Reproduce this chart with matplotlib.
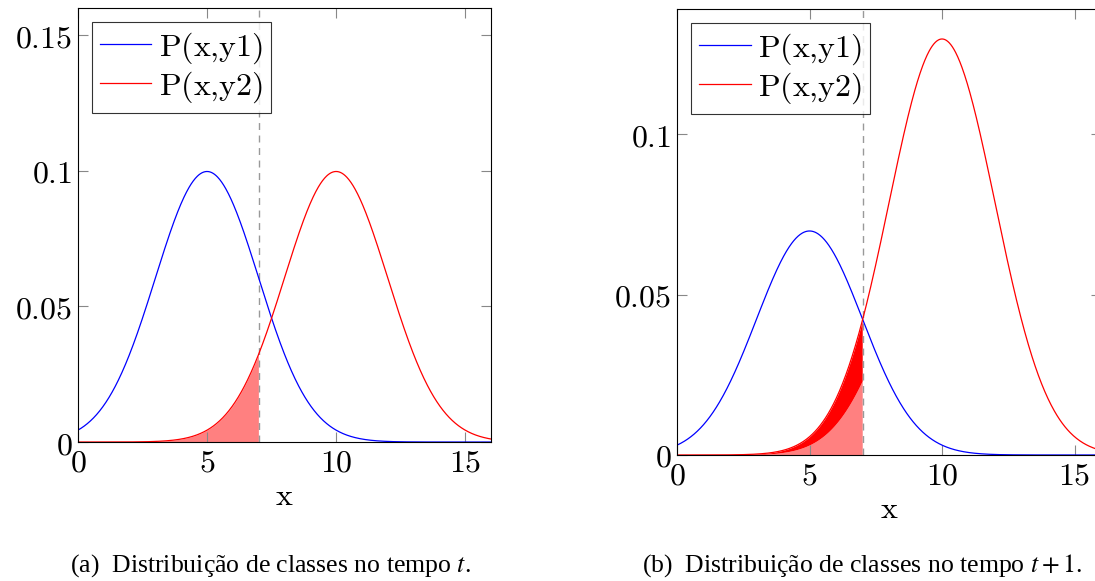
import matplotlib
matplotlib.use("Agg")
import matplotlib.pyplot as plt
import numpy as np

# class-conditional gaussians
means = [5.0, 10.0]
sigma = 2.0
priors_t = [0.5, 0.5]       # panel (a)
priors_t1 = [0.35, 0.65]    # panel (b)
light_share_b = 0.36        # lighter part of the shaded tail in panel (b)
threshold = 7.0
series_labels = ["P(x{,}y1)", "P(x{,}y2)"]
x_ticks = [0, 5, 10, 15]
y_ticks_a = [0, 0.05, 0.1, 0.15]
y_ticks_b = [0, 0.05, 0.1]
captions = ["(a)  Distribuição de classes no tempo $t$.",
            "(b)  Distribuição de classes no tempo $t+1$."]

plt.rcParams["mathtext.fontset"] = "cm"
plt.rcParams["font.family"] = "DejaVu Serif"

x = np.linspace(0, 16, 800)


def density(prior, mu):
    return prior * np.exp(-0.5 * ((x - mu) / sigma) ** 2) / (sigma * np.sqrt(2 * np.pi))


def tex(s):
    return r"$\mathrm{" + s + "}$"


def style_axes(ax, yticks, ymax):
    ax.set_xlim(0, 16)
    ax.set_ylim(0, ymax)
    ax.set_xticks(x_ticks)
    ax.set_xticklabels([tex(str(t)) for t in x_ticks])
    ax.set_yticks(yticks)
    ax.set_yticklabels([tex(f"{t:g}") for t in yticks])
    ax.tick_params(direction="in", length=7, width=0.8, color="#888888",
                   top=True, right=True, labelsize=23, pad=4)
    for sp in ax.spines.values():
        sp.set_linewidth(0.8)
    ax.set_xlabel(tex("x"), fontsize=23, labelpad=2)
    leg = ax.legend(loc="upper left", fontsize=23, frameon=True, fancybox=False,
                    edgecolor="black", handlelength=1.6, handletextpad=0.25,
                    borderpad=0.25, labelspacing=0.1, borderaxespad=0.45)
    leg.get_frame().set_linewidth(0.8)


fig = plt.figure(figsize=(10.95, 5.81), dpi=100)
ax_a = fig.add_axes([0.0712, 0.2392, 0.3772, 0.747])
ax_b = fig.add_axes([0.6183, 0.2169, 0.3872, 0.7676])

# panel (a)
y1 = density(priors_t[0], means[0])
y2 = density(priors_t[1], means[1])
mask = x <= threshold
ax_a.fill_between(x[mask], 0, y2[mask], color="#ff8080", lw=0)
ax_a.axvline(threshold, color="#999999", lw=1, ls=(0, (5, 4)))
ax_a.plot(x, y1, color="blue", lw=0.9, label=tex(series_labels[0]))
ax_a.plot(x, y2, color="red", lw=0.9, label=tex(series_labels[1]))
style_axes(ax_a, y_ticks_a, 0.16)

# panel (b)
y1b = density(priors_t1[0], means[0])
y2b = density(priors_t1[1], means[1])
y_light = density(light_share_b, means[1])
ax_b.fill_between(x[mask], 0, y_light[mask], color="#ff8080", lw=0)
ax_b.fill_between(x[mask], y_light[mask], y2b[mask], color="red", lw=0)
ax_b.axvline(threshold, color="#999999", lw=1, ls=(0, (5, 4)))
ax_b.plot(x, y1b, color="blue", lw=0.9, label=tex(series_labels[0]))
ax_b.plot(x, y2b, color="red", lw=0.9, label=tex(series_labels[1]))
style_axes(ax_b, y_ticks_b, 0.139)

fig.text(0.247, 0.027, captions[0], ha="center", va="center", fontsize=18.5,
         family="Liberation Serif", math_fontfamily="stix")
fig.text(0.787, 0.027, captions[1], ha="center", va="center", fontsize=18.5,
         family="Liberation Serif", math_fontfamily="stix")

fig.savefig("out.png", dpi=100)
